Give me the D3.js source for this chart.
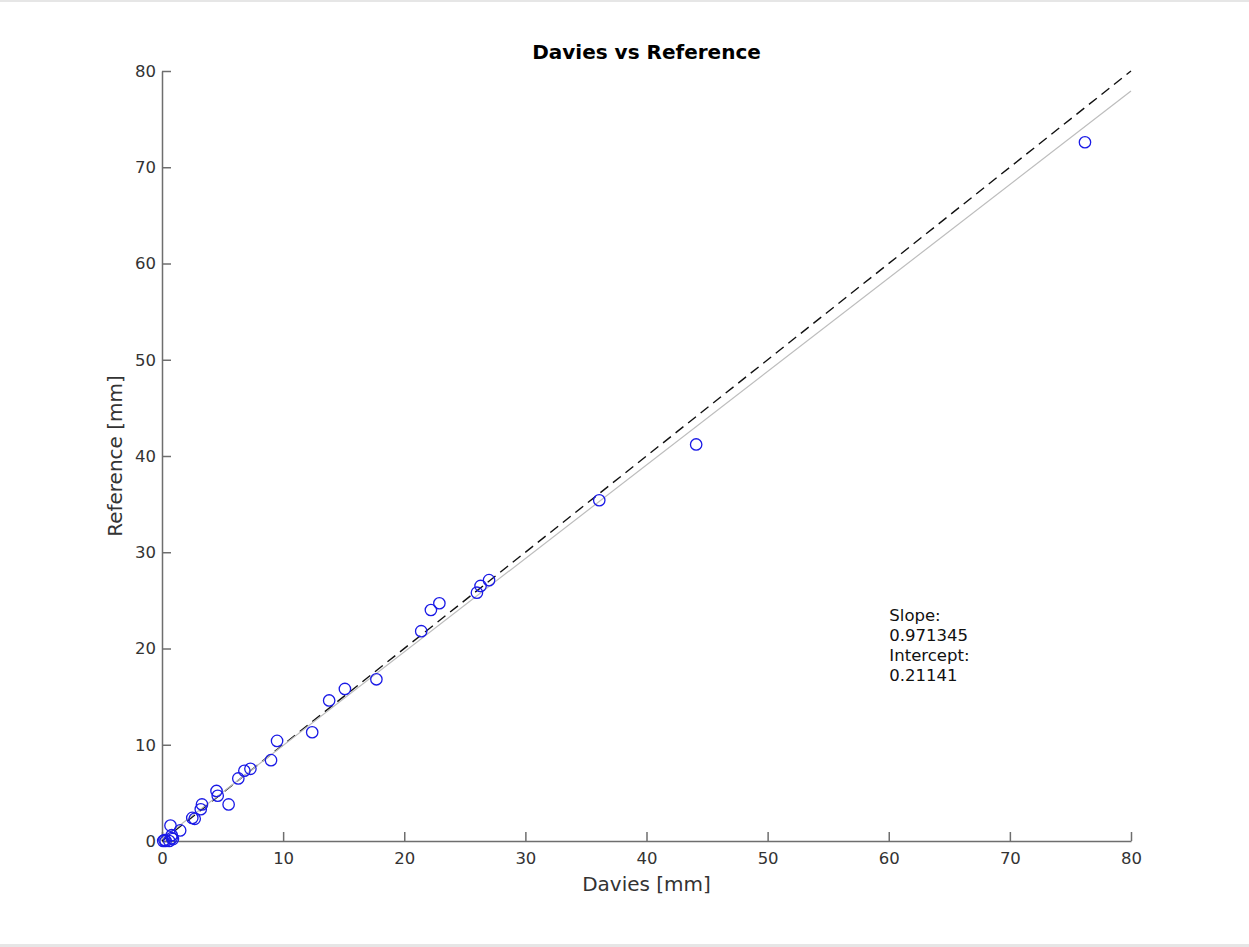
<!DOCTYPE html>
<html>
<head>
<meta charset="utf-8">
<script src="https://cdn.jsdelivr.net/npm/d3@7"></script>
<style>
  html, body { margin: 0; padding: 0; background: #fff; }
  svg { display: block; font-family: "DejaVu Sans", sans-serif; }
</style>
</head>
<body>
<svg id="chart" width="1249" height="947"></svg>
<script>
// Measured thickness, Davies method vs reference [mm]
const daviesMm = [76.2, 44.1, 36.1, 27.0, 26.3, 26.0, 22.9, 22.2, 21.4, 17.7,
                  15.1, 13.8, 12.4, 9.5, 9.0, 7.3, 6.8, 6.3, 5.5, 4.5,
                  4.6, 3.3, 3.2, 2.7, 2.5, 1.5, 0.7, 0.8, 0.9, 0.6,
                  0.3, 0.1, 0.8, 0.2];
const referenceMm = [72.6, 41.2, 35.4, 27.1, 26.5, 25.8, 24.7, 24.0, 21.8, 16.8,
                     15.8, 14.6, 11.3, 10.4, 8.4, 7.5, 7.3, 6.5, 3.8, 5.2,
                     4.7, 3.8, 3.3, 2.3, 2.4, 1.1, 1.6, 0.6, 0.2, 0.0,
                     0.0, 0.0, 0.3, 0.1];
const xTicks = [0, 10, 20, 30, 40, 50, 60, 70, 80];
const yTicks = [0, 10, 20, 30, 40, 50, 60, 70, 80];
const fitSlope = 0.971345;
const fitIntercept = 0.21141;
const fitLabels = ["Slope:", String(fitSlope), "Intercept:", String(fitIntercept)];

const svg = d3.select("#chart");
const W = 1249, H = 947;
const margin = { left: 162, right: 118, top: 71, bottom: 106 };

// thin frame lines at top and bottom edges
svg.append("rect").attr("x", 0).attr("y", 0).attr("width", W).attr("height", 2).attr("fill", "#e6e6e6");
svg.append("rect").attr("x", 0).attr("y", H - 3).attr("width", W).attr("height", 3).attr("fill", "#e6e6e6");

const x = d3.scaleLinear().domain([0, 80]).range([margin.left, W - margin.right]);
const y = d3.scaleLinear().domain([0, 80]).range([H - margin.bottom, margin.top]);

const axisColor = "#6e6e6e";
const tickText = "#333";

// x axis (ticks pointing inward)
const gx = svg.append("g")
  .attr("transform", `translate(0,${y(0)})`)
  .call(d3.axisBottom(x).tickValues(xTicks).tickSize(-9).tickSizeOuter(0).tickPadding(8));
gx.select(".domain").attr("stroke", axisColor).attr("stroke-width", 1.5);
gx.selectAll(".tick line").attr("stroke", axisColor).attr("stroke-width", 1.5);
gx.selectAll(".tick text").attr("fill", tickText).attr("font-size", 16.5)
  .attr("font-family", "DejaVu Sans, sans-serif").attr("dy", "0").attr("y", 23);

// y axis (ticks pointing inward)
const gy = svg.append("g")
  .attr("transform", `translate(${x(0)},0)`)
  .call(d3.axisLeft(y).tickValues(yTicks).tickSize(-9).tickSizeOuter(0).tickPadding(8));
gy.select(".domain").attr("stroke", axisColor).attr("stroke-width", 1.5);
gy.selectAll(".tick line").attr("stroke", axisColor).attr("stroke-width", 1.5);
gy.selectAll(".tick text").attr("fill", tickText).attr("font-size", 16.5)
  .attr("font-family", "DejaVu Sans, sans-serif").attr("x", -6);

// identity line y = x
svg.append("line")
  .attr("x1", x(0)).attr("y1", y(0)).attr("x2", x(80)).attr("y2", y(80))
  .attr("stroke", "#111").attr("stroke-width", 1.4).attr("stroke-dasharray", "10,6");

// least-squares fit line
svg.append("line")
  .attr("x1", x(0)).attr("y1", y(fitIntercept))
  .attr("x2", x(80)).attr("y2", y(fitSlope * 80 + fitIntercept))
  .attr("stroke", "#bdbdbd").attr("stroke-width", 1.2);

// measurement points
svg.append("g").selectAll("circle")
  .data(daviesMm.map((d, i) => [d, referenceMm[i]]))
  .join("circle")
  .attr("cx", d => x(d[0])).attr("cy", d => y(d[1])).attr("r", 5.7)
  .attr("fill", "none").attr("stroke", "#1a1ae6").attr("stroke-width", 1.3);

// fit annotation
const annX = x(60.05);
const ann = svg.append("text")
  .attr("x", annX).attr("y", 621)
  .attr("font-size", 16.5).attr("fill", "#111");
fitLabels.forEach((t, i) => {
  ann.append("tspan").attr("x", annX).attr("dy", i === 0 ? 0 : 20).text(t);
});

// title and axis labels
svg.append("text")
  .attr("x", (x(0) + x(80)) / 2).attr("y", 59)
  .attr("text-anchor", "middle").attr("font-size", 20).attr("font-weight", "bold")
  .attr("fill", "#000").text("Davies vs Reference");

svg.append("text")
  .attr("x", (x(0) + x(80)) / 2).attr("y", 891)
  .attr("text-anchor", "middle").attr("font-size", 20).attr("fill", "#333")
  .text("Davies [mm]");

svg.append("text")
  .attr("transform", `translate(122,${(y(0) + y(80)) / 2}) rotate(-90)`)
  .attr("text-anchor", "middle").attr("font-size", 20).attr("fill", "#333")
  .text("Reference [mm]");
</script>
</body>
</html>
